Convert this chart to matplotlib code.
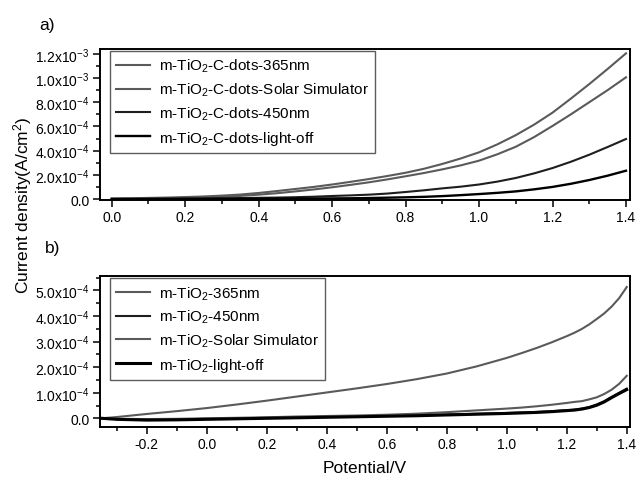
import numpy as np
import matplotlib
matplotlib.use("Agg")
import matplotlib.pyplot as plt
from matplotlib.ticker import MultipleLocator, FuncFormatter

plt.rcParams.update({
    "font.family": ["Liberation Sans", "DejaVu Sans"],
    "mathtext.fontset": "custom",
    "mathtext.rm": "Liberation Sans",
    "mathtext.it": "Liberation Sans",
    "mathtext.default": "regular",
})

# ---- panel a) m-TiO2-C-dots, current density in units of 1e-3 A/cm2 ----
v_a = [0.0, 0.05, 0.1, 0.15, 0.2, 0.25, 0.3, 0.35, 0.4, 0.45, 0.5, 0.55, 0.6,
       0.65, 0.7, 0.75, 0.8, 0.85, 0.9, 0.95, 1.0, 1.05, 1.1, 1.15, 1.2, 1.25,
       1.3, 1.35, 1.4]
cd_365 = [0.004, 0.006, 0.009, 0.012, 0.016, 0.021, 0.028, 0.037, 0.05, 0.066,
          0.083, 0.10, 0.12, 0.142, 0.165, 0.19, 0.217, 0.25, 0.29, 0.335,
          0.386, 0.452, 0.528, 0.615, 0.714, 0.83, 0.95, 1.075, 1.204]
cd_solar = [0.002, 0.003, 0.005, 0.007, 0.01, 0.014, 0.018, 0.026, 0.036, 0.048,
            0.063, 0.079, 0.097, 0.117, 0.138, 0.162, 0.188, 0.215, 0.245, 0.278,
            0.317, 0.37, 0.432, 0.512, 0.604, 0.70, 0.80, 0.90, 1.006]
cd_450 = [0.0, 0.0005, 0.001, 0.002, 0.003, 0.004, 0.006, 0.008, 0.01, 0.012,
          0.015, 0.019, 0.025, 0.03, 0.036, 0.045, 0.058, 0.072, 0.088, 0.102,
          0.12, 0.144, 0.174, 0.212, 0.256, 0.308, 0.366, 0.43, 0.496]
cd_off = [0.0, 0.0, 0.0005, 0.0008, 0.001, 0.0012, 0.0015, 0.0018, 0.002, 0.0025,
          0.003, 0.004, 0.005, 0.006, 0.008, 0.011, 0.014, 0.018, 0.024, 0.032,
          0.041, 0.051, 0.063, 0.08, 0.10, 0.126, 0.157, 0.193, 0.234]
scale_a = 1e-3

# ---- panel b) m-TiO2, current density in units of 1e-4 A/cm2 ----
v_b = [-0.35, -0.3, -0.2, -0.1, 0.0, 0.1, 0.2, 0.3, 0.4, 0.5, 0.6, 0.7, 0.8,
       0.9, 1.0, 1.05, 1.1, 1.15, 1.2, 1.225, 1.25, 1.275, 1.3, 1.325, 1.35,
       1.375, 1.4]
t_365 = [0.0, 0.05, 0.17, 0.28, 0.40, 0.54, 0.69, 0.85, 1.01, 1.17, 1.34, 1.53,
         1.75, 2.03, 2.36, 2.55, 2.75, 2.97, 3.21, 3.34, 3.49, 3.67, 3.88, 4.1,
         4.37, 4.7, 5.13]
t_450 = [0.0, -0.03, -0.05, -0.04, -0.02, 0.0, 0.02, 0.04, 0.06, 0.08, 0.10,
         0.12, 0.15, 0.18, 0.21, 0.23, 0.25, 0.28, 0.32, 0.34, 0.38, 0.44, 0.54,
         0.67, 0.84, 1.0, 1.16]
t_solar = [0.0, -0.02, -0.03, -0.02, 0.0, 0.02, 0.04, 0.07, 0.09, 0.11, 0.14,
           0.18, 0.24, 0.31, 0.38, 0.42, 0.47, 0.53, 0.60, 0.64, 0.67, 0.74,
           0.82, 0.95, 1.12, 1.35, 1.66]
t_off = [0.0, -0.04, -0.07, -0.06, -0.04, -0.02, 0.0, 0.02, 0.04, 0.06, 0.08,
         0.10, 0.13, 0.16, 0.19, 0.21, 0.23, 0.26, 0.30, 0.32, 0.36, 0.42, 0.51,
         0.64, 0.81, 0.97, 1.12]
scale_b = 1e-4

GRAY = "#5a5a5a"
DARK = "#1e1e1e"
BLACK = "#000000"


def sci_label(y, pos):
    if abs(y) < 1e-12:
        return "0.0"
    e = int(np.floor(np.log10(abs(y)) + 1e-9))
    return f"{y / 10 ** e:.1f}x10$^{{{e}}}$"


def style_axes(ax):
    for s in ax.spines.values():
        s.set_linewidth(1.4)
    ax.tick_params(which="both", direction="out", top=False, right=False,
                   labelsize=10, width=1.1, pad=2.5)
    ax.tick_params(which="major", length=5)
    ax.tick_params(which="minor", length=3)
    ax.xaxis.set_major_locator(MultipleLocator(0.2))
    ax.xaxis.set_minor_locator(MultipleLocator(0.1))
    ax.xaxis.set_major_formatter(FuncFormatter(lambda x, p: f"{x:.1f}"))
    ax.yaxis.set_major_formatter(FuncFormatter(sci_label))


def add_legend(ax, anchor):
    leg = ax.legend(loc="upper left", bbox_to_anchor=anchor, borderaxespad=0,
                    fontsize=11, frameon=True, fancybox=False,
                    edgecolor="#333333", handlelength=2.2, labelspacing=0.42,
                    borderpad=0.4, handletextpad=0.6)
    leg.get_frame().set_linewidth(1.0)
    return leg


fig = plt.figure(figsize=(6.38, 4.85), dpi=100)
ax1 = fig.add_axes([0.1567, 0.5856, 0.8308, 0.3113])
ax2 = fig.add_axes([0.1567, 0.1175, 0.8308, 0.3113])

va = np.array(v_a)
ax1.plot(va, np.array(cd_365) * scale_a, color=GRAY, lw=1.5, label="m-TiO$_2$-C-dots-365nm")
ax1.plot(va, np.array(cd_solar) * scale_a, color=GRAY, lw=1.5, label="m-TiO$_2$-C-dots-Solar Simulator")
ax1.plot(va, np.array(cd_450) * scale_a, color=DARK, lw=1.5, label="m-TiO$_2$-C-dots-450nm")
ax1.plot(va, np.array(cd_off) * scale_a, color=BLACK, lw=1.7, label="m-TiO$_2$-C-dots-light-off")
ax1.set_xlim(-0.032, 1.411)
ax1.set_ylim(-0.8e-5, 1.24e-3)
ax1.yaxis.set_major_locator(MultipleLocator(2e-4))
ax1.yaxis.set_minor_locator(MultipleLocator(1e-4))
style_axes(ax1)
add_legend(ax1, (0.019, 0.987))

vb = np.array(v_b)
ax2.plot(vb, np.array(t_365) * scale_b, color=GRAY, lw=1.5, label="m-TiO$_2$-365nm")
ax2.plot(vb, np.array(t_450) * scale_b, color=DARK, lw=1.5, label="m-TiO$_2$-450nm")
ax2.plot(vb, np.array(t_solar) * scale_b, color=GRAY, lw=1.5, label="m-TiO$_2$-Solar Simulator")
ax2.plot(vb, np.array(t_off) * scale_b, color=BLACK, lw=2.2, label="m-TiO$_2$-light-off")
ax2.set_xlim(-0.356, 1.411)
ax2.set_ylim(-3.4e-5, 5.56e-4)
ax2.yaxis.set_major_locator(MultipleLocator(1e-4))
ax2.yaxis.set_minor_locator(MultipleLocator(0.5e-4))
style_axes(ax2)
add_legend(ax2, (0.019, 0.987))

ax2.set_xlabel("Potential/V", fontsize=12.5, labelpad=6)
fig.text(0.035, 0.577, "Current density(A/cm$^2$)", rotation=90, fontsize=12.5,
         ha="center", va="center")
fig.text(0.073, 0.948, "a)", fontsize=12.5, ha="center", va="center")
fig.text(0.082, 0.488, "b)", fontsize=12.5, ha="center", va="center")

fig.savefig("out.png", dpi=100)
plt.close(fig)
